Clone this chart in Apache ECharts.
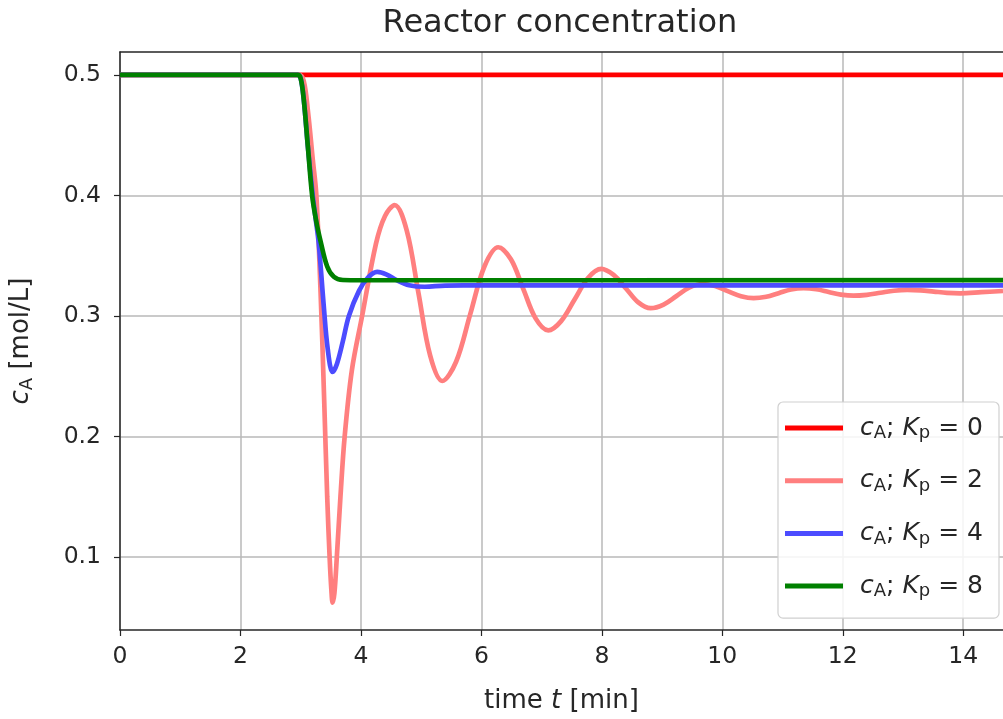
<!DOCTYPE html>
<html>
<head>
<meta charset="utf-8">
<title>Reactor concentration</title>
<script src="https://cdn.jsdelivr.net/npm/echarts@6/dist/echarts.min.js"></script>
<style>
  html, body { margin: 0; padding: 0; background: #ffffff; }
  #chart { width: 1003px; height: 719px; }
</style>
</head>
<body>
<div id="chart"></div>
<script>
// Proportional gains of the four simulated controllers
const gains = [0, 2, 4, 8];

// Kp = 0 (no control): concentration stays at the initial value
const tKp0 = [0, 14.66];
const cKp0 = [0.5, 0.5];

// Kp = 2: strongly oscillating response
const tKp2 = [0, 2.97, 3.05, 3.12, 3.2, 3.26, 3.33, 3.39, 3.44, 3.48, 3.51, 3.53, 3.56, 3.6, 3.66, 3.73,
  3.85, 4.02, 4.25, 4.4, 4.56, 4.76, 4.955, 5.15, 5.35, 5.58, 5.815, 6.05, 6.28, 6.49, 6.695, 6.9, 7.11,
  7.32, 7.545, 7.77, 7.99, 8.195, 8.4, 8.605, 8.81, 9.025, 9.24, 9.455, 9.67, 9.88, 10.09, 10.31, 10.52,
  10.73, 10.935, 11.14, 11.35, 11.56, 11.765, 11.97, 12.18, 12.4, 12.625, 12.85, 13.07, 13.29, 13.51,
  13.73, 13.95, 14.3, 14.66];
const cKp2 = [0.5, 0.5, 0.495, 0.47, 0.43, 0.4, 0.32, 0.23, 0.15, 0.1, 0.072, 0.062, 0.07, 0.1, 0.15, 0.2,
  0.255, 0.3, 0.36, 0.383, 0.392, 0.371, 0.319, 0.267, 0.246, 0.262, 0.3015, 0.341, 0.357, 0.347, 0.3225, 0.298, 0.288,
  0.2955, 0.3135, 0.3315, 0.339, 0.334, 0.3228, 0.3112, 0.3064, 0.3094, 0.3165, 0.3236, 0.3265, 0.3248, 0.3206, 0.3164, 0.3147,
  0.3159, 0.3189, 0.3219, 0.323, 0.3221, 0.3199, 0.3177, 0.3168, 0.3175, 0.3192, 0.3209, 0.3216, 0.3212, 0.3202,
  0.3192, 0.3188, 0.3197, 0.3207];

// Kp = 4: one undershoot, then settles
const tKp4 = [0, 2.95, 3.0, 3.05, 3.12, 3.2, 3.25, 3.3, 3.38, 3.45, 3.53, 3.6, 3.7, 3.8, 3.97, 4.12,
  4.27, 4.42, 4.6, 4.8, 5.06, 5.4, 6.0, 14.66];
const cKp4 = [0.5, 0.5, 0.497, 0.48, 0.44, 0.4, 0.38, 0.36, 0.31, 0.272, 0.2535, 0.26, 0.279, 0.3, 0.321, 0.332,
  0.3365, 0.3345, 0.3295, 0.3255, 0.3242, 0.3252, 0.3253, 0.3253];

// Kp = 8: fast, well damped response
const tKp8 = [0, 2.95, 3.0, 3.05, 3.12, 3.19, 3.26, 3.33, 3.44, 3.55, 3.7, 4.0, 14.66];
const cKp8 = [0.5, 0.5, 0.497, 0.48, 0.44, 0.4, 0.378, 0.362, 0.341, 0.3325, 0.3298, 0.3296, 0.3297];

const xTicks = [0, 2, 4, 6, 8, 10, 12, 14];
const yTicks = [0.1, 0.2, 0.3, 0.4, 0.5];

const seriesTimes = [tKp0, tKp2, tKp4, tKp8];
const seriesValues = [cKp0, cKp2, cKp4, cKp8];
const seriesColors = ['#ff0000', '#ff7f7f', '#4c4cff', '#008000'];

const FONT = 'DejaVu Sans';
const TXT = '#262626';

function pairs(ts, cs) {
  return ts.map((t, i) => [t, cs[i]]);
}

const chart = echarts.init(document.getElementById('chart'), null, { renderer: 'canvas' });

const series = gains.map((k, i) => ({
  name: 'Kp' + k,
  type: 'line',
  data: pairs(seriesTimes[i], seriesValues[i]),
  showSymbol: false,
  smooth: i === 0 ? false : 0.35,
  lineStyle: { color: seriesColors[i], width: 4.7 },
  itemStyle: { color: seriesColors[i] },
  z: 2 + i,
  animation: false
}));

const mathRich = (size) => ({
  it: { fontFamily: FONT, fontStyle: 'italic', fontSize: size, color: TXT },
  up: { fontFamily: FONT, fontSize: size, color: TXT },
  sub: { fontFamily: FONT, fontSize: Math.round(size * 0.7), color: TXT, padding: [Math.round(size * 0.45), 0, 0, 0] }
});

chart.setOption({
  animation: false,
  backgroundColor: '#ffffff',
  title: {
    text: 'Reactor concentration',
    left: 555,
    textAlign: 'center',
    top: 3,
    textStyle: { fontFamily: FONT, fontSize: 32, fontWeight: 'normal', color: TXT }
  },
  grid: { left: 118, right: 0, top: 52, bottom: 89, containLabel: false },
  legend: {
    orient: 'vertical',
    left: 778,
    top: 402,
    padding: [11, 16, 17, 7],
    itemGap: 22.7,
    itemWidth: 58,
    itemHeight: 5,
    icon: 'rect',
    backgroundColor: 'rgba(255,255,255,0.85)',
    borderColor: '#d0d0d0',
    borderWidth: 1.2,
    borderRadius: 5,
    data: gains.map(k => 'Kp' + k),
    formatter: (name) => '{it|c}{sub|A}{up|; }{it|K}{sub|p}{up| = ' + name.slice(2) + '}',
    textStyle: {
      fontFamily: FONT, fontSize: 25, color: TXT, lineHeight: 30,
      padding: [0, 0, 0, 12],
      rich: mathRich(25)
    }
  },
  xAxis: [{
    type: 'value',
    min: 0,
    max: 14.66,
    position: 'bottom',
    axisLine: { show: true, onZero: false, lineStyle: { color: '#262626', width: 1.5 } },
    axisTick: { show: true, inside: false, length: 6, customValues: xTicks, lineStyle: { color: '#262626', width: 1.2 } },
    axisLabel: { customValues: xTicks, margin: 15, fontFamily: FONT, fontSize: 23.5, color: TXT },
    splitLine: { show: true, lineStyle: { color: '#b8b8b8', width: 1.5 } },
    name: '{up|time }{it|t}{up| [min]}',
    nameLocation: 'middle',
    nameGap: 58,
    nameTextStyle: { rich: mathRich(26) }
  }, {
    type: 'value',
    min: 0,
    max: 14.66,
    position: 'top',
    axisLine: { show: true, onZero: false, lineStyle: { color: '#262626', width: 1.5 } },
    axisTick: { show: false },
    axisLabel: { show: false },
    splitLine: { show: false }
  }],
  yAxis: {
    type: 'value',
    min: 0.0394,
    max: 0.519,
    axisLine: { show: true, onZero: false, lineStyle: { color: '#262626', width: 1.5 } },
    axisTick: { show: true, inside: false, length: 6, customValues: yTicks, lineStyle: { color: '#262626', width: 1.2 } },
    axisLabel: { customValues: yTicks, margin: 19, fontFamily: FONT, fontSize: 23.5, color: TXT, formatter: v => v.toFixed(1) },
    splitLine: { show: true, lineStyle: { color: '#b8b8b8', width: 1.5 } },
    name: '{it|c}{sub|A}{up| [mol/L]}',
    nameLocation: 'middle',
    nameRotate: 90,
    nameGap: 84,
    nameTextStyle: { rich: mathRich(26) }
  },
  series: series
});
</script>
</body>
</html>
